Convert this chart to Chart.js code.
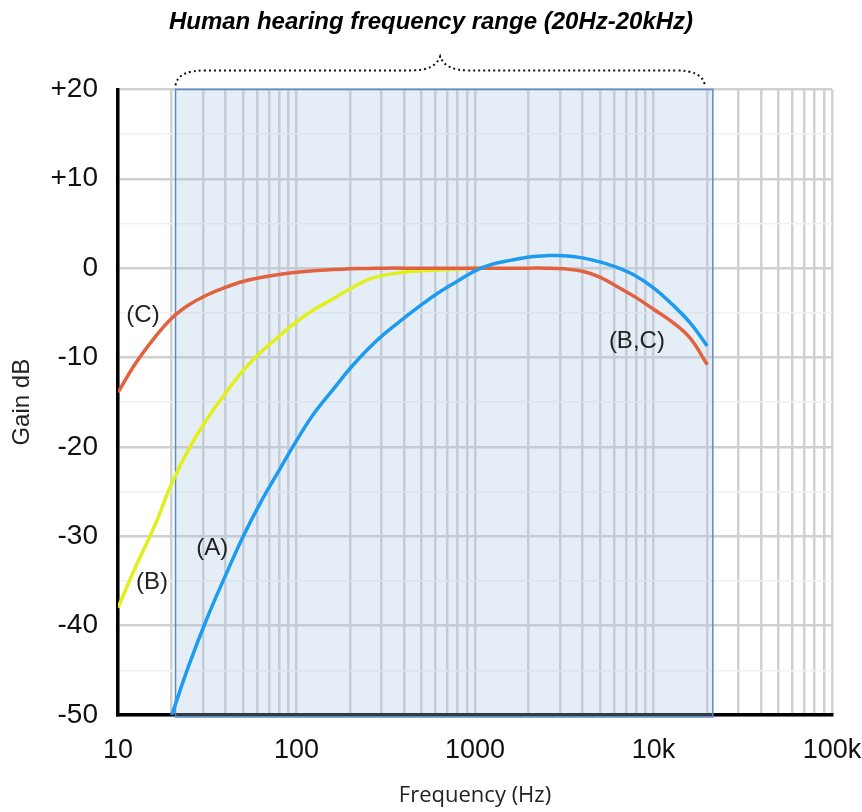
<!DOCTYPE html>
<html><head><meta charset="utf-8">
<script src="https://cdn.jsdelivr.net/npm/chart.js@4.4.1/dist/chart.umd.min.js"></script>
<style>html,body{margin:0;padding:0;background:#fff;} #wrap{width:862px;height:812px;}</style>
</head><body><div id="wrap"><canvas id="c" width="862" height="812"></canvas></div>
<script>
// ---- data (1/3-octave frequencies) ----
const freqA = [20, 25, 31.5, 40, 50, 63, 80, 100, 125, 160, 200, 250, 315, 400, 500, 630, 800, 1000, 1250, 1600, 2000, 2500, 3150, 4000, 5000, 6300, 8000, 10000, 12500, 16000, 20000];
const gainA = [-50, -44.4, -39.2, -34.4, -30.1, -26.2, -22.6, -19.3, -16.3, -13.6, -11.2, -9.1, -7.25, -5.6, -4.1, -2.7, -1.45, -0.3, 0.45, 0.9, 1.25, 1.4, 1.4, 1.15, 0.7, 0.05, -0.9, -2.2, -3.9, -6.1, -8.7];

const freqB = [10, 12.5, 16, 20, 25, 31.5, 40, 50, 63, 80, 100, 125, 160, 200, 250, 315, 400, 500, 630, 800, 1000, 1250];
const gainB = [-38, -33.5, -28.9, -24.1, -20.2, -16.9, -14.0, -11.5, -9.4, -7.6, -6.0, -4.65, -3.45, -2.3, -1.3, -0.75, -0.45, -0.3, -0.2, -0.1, 0, 0];

const freqC = [10, 12.5, 16, 20, 25, 31.5, 40, 50, 63, 80, 100, 125, 160, 200, 250, 315, 400, 500, 630, 800, 1000, 1250, 1600, 2000, 2500, 3150, 4000, 5000, 6300, 8000, 10000, 12500, 16000, 20000];
const gainC = [-13.9, -10.7, -7.8, -5.6, -4.1, -3.0, -2.15, -1.5, -1.05, -0.7, -0.45, -0.28, -0.16, -0.08, -0.03, 0, 0, 0, 0, 0, 0, 0, 0, 0, 0, -0.08, -0.35, -1.0, -2.1, -3.3, -4.6, -5.9, -7.8, -10.8];

const xTickValues = [10,20,30,40,50,60,70,80,90,100,200,300,400,500,600,700,800,900,1000,
  2000,3000,4000,5000,6000,7000,8000,9000,10000,20000,30000,40000,50000,60000,70000,80000,90000,100000];
const xLabelValues = [10, 100, 1000, 10000, 100000];
const xLabelTexts  = ['10', '100', '1000', '10k', '100k'];

const yLabelValues = [20, 10, 0, -10, -20, -30, -40, -50];
const yLabelTexts  = ['+20', '+10', '0', '-10', '-20', '-30', '-40', '-50'];

const hearingRange = [21, 21500];

const curveLabelTexts = ['(C)', '(B)', '(A)', '(B,C)'];
const curveLabelFreq  = [13.8, 15.5, 33.7, 8070];
const curveLabelGain  = [-5.3, -35.2, -31.3, -8.2];

// ---- plugins ----
const shadePlugin = {
  id: 'shade',
  beforeDatasetsDraw(chart) {
    const {ctx, chartArea, scales: {x}} = chart;
    const x0 = x.getPixelForValue(hearingRange[0]);
    const x1 = x.getPixelForValue(hearingRange[1]);
    ctx.save();
    ctx.fillStyle = 'rgba(170,195,228,0.3)';
    ctx.fillRect(x0, chartArea.top, x1 - x0, chartArea.bottom - chartArea.top + 2);
    ctx.strokeStyle = '#5b8bc7';
    ctx.lineWidth = 1.5;
    ctx.strokeRect(x0, chartArea.top, x1 - x0, chartArea.bottom - chartArea.top + 2);
    ctx.restore();
  }
};

const annotPlugin = {
  id: 'annot',
  afterDatasetsDraw(chart) {
    const {ctx, chartArea, scales: {x, y}} = chart;
    ctx.save();
    ctx.fillStyle = '#222';
    ctx.font = '24px "Liberation Sans", Arial, sans-serif';
    ctx.textAlign = 'center';
    ctx.textBaseline = 'middle';
    curveLabelTexts.forEach((t, i) => {
      ctx.fillText(t, x.getPixelForValue(curveLabelFreq[i]), y.getPixelForValue(curveLabelGain[i]));
    });
    // dotted curly bracket above the hearing range
    const x0 = x.getPixelForValue(hearingRange[0]);
    const x1 = x.getPixelForValue(hearingRange[1]) - 8;
    const mid = (x0 + x1) / 2;
    const yb = chartArea.top - 4, yf = chartArea.top - 19, yp = chartArea.top - 33;
    ctx.setLineDash([2, 3]);
    ctx.lineWidth = 2;
    ctx.strokeStyle = '#111';
    ctx.beginPath();
    ctx.moveTo(x0, yb);
    ctx.quadraticCurveTo(x0 + 2, yf, x0 + 30, yf);
    ctx.lineTo(mid - 28, yf);
    ctx.quadraticCurveTo(mid - 5, yf, mid, yp);
    ctx.quadraticCurveTo(mid + 5, yf, mid + 28, yf);
    ctx.lineTo(x1 - 30, yf);
    ctx.quadraticCurveTo(x1 - 2, yf, x1, yb);
    ctx.stroke();
    ctx.restore();
  }
};

const toPts = (fs, gs) => fs.map((f, i) => ({x: f, y: gs[i]}));

new Chart(document.getElementById('c'), {
  type: 'line',
  data: {
    datasets: [
      {label: '(A)', data: toPts(freqA, gainA), borderColor: '#1d9bf0', borderWidth: 3.5, pointRadius: 0, tension: 0.4, order: 0},
      {label: '(C)', data: toPts(freqC, gainC), borderColor: '#e2623f', borderWidth: 3.5, pointRadius: 0, tension: 0.4, order: 1},
      {label: '(B)', data: toPts(freqB, gainB), borderColor: '#e1f01c', borderWidth: 3.5, pointRadius: 0, tension: 0.4, order: 2}
    ]
  },
  options: {
    responsive: false,
    animation: false,
    devicePixelRatio: 1,
    layout: {padding: {left: 0, right: 0, top: 0, bottom: 0}},
    plugins: {
      legend: {display: false},
      tooltip: {enabled: false},
      title: {
        display: true,
        text: 'Human hearing frequency range (20Hz-20kHz)',
        color: '#000',
        font: {family: '"Liberation Sans", Arial, sans-serif', size: 24, weight: 'bold', style: 'italic', lineHeight: 1.2},
        padding: {top: 7.6, bottom: 53}
      }
    },
    scales: {
      x: {
        type: 'logarithmic',
        min: 10, max: 100000,
        afterBuildTicks: (s) => { s.ticks = xTickValues.map(v => ({value: v})); },
        afterFit: (s) => { s.height = 97; s.paddingLeft = 0; s.paddingRight = 30; },
        grid: {color: '#d0d0d0', lineWidth: 2.5, drawTicks: false},
        border: {display: true, color: '#000', width: 3.5},
        ticks: {
          autoSkip: false, maxRotation: 0, padding: 19,
          color: '#111',
          font: {family: '"Liberation Sans", Arial, sans-serif', size: 27, lineHeight: 1.2},
          callback: (v) => { const i = xLabelValues.indexOf(v); return i >= 0 ? xLabelTexts[i] : ''; }
        },
        title: {
          display: true, text: 'Frequency (Hz)', color: '#222',
          font: {family: '"Open Sans", sans-serif', size: 22, lineHeight: 1.2},
          padding: {top: 0, bottom: 3}
        }
      },
      y: {
        type: 'linear',
        min: -50, max: 20,
        afterFit: (s) => { s.width = 118; },
        grid: {
          color: (c) => (c.tick && c.tick.value % 10 === 0) ? '#d0d0d0' : '#f1f1f1',
          lineWidth: (c) => (c.tick && c.tick.value % 10 === 0) ? 2.5 : 1.5,
          drawTicks: false
        },
        border: {display: true, color: '#000', width: 3.5},
        ticks: {
          stepSize: 5, padding: 20, color: '#111',
          font: {family: '"Liberation Sans", Arial, sans-serif', size: 28, lineHeight: 1.2},
          callback: (v) => { const i = yLabelValues.indexOf(v); return i >= 0 ? yLabelTexts[i] : ''; }
        },
        title: {
          display: true, text: 'Gain dB', color: '#222',
          font: {family: '"Liberation Sans", Arial, sans-serif', size: 24, lineHeight: 1.2},
          padding: {top: 7.6, bottom: 0}
        }
      }
    }
  },
  plugins: [shadePlugin, annotPlugin]
});
</script>
</body></html>
